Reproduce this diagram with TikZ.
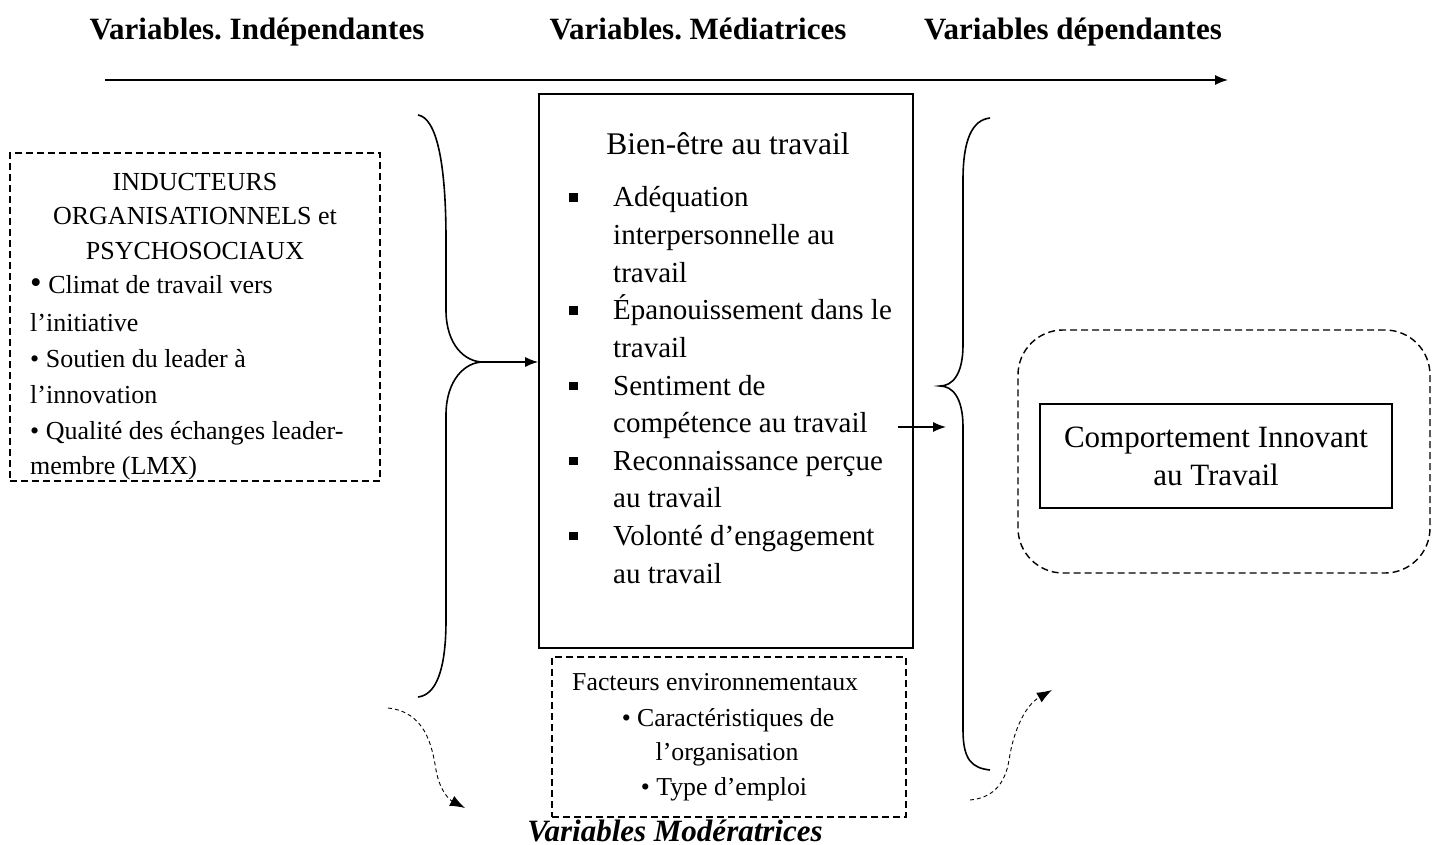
\documentclass[tikz,border=0pt]{standalone}
\usepackage{fontspec}
\setmainfont{Liberation Serif}
\usetikzlibrary{arrows.meta}
\frenchspacing
\begin{document}
\begin{tikzpicture}[x=1pt,y=-1pt,
  ttl/.style={font=\fontsize{31}{36}\selectfont\bfseries, inner sep=0pt, anchor=base},
  lt/.style={font=\fontsize{26}{30}\selectfont, inner sep=0pt},
  mt/.style={font=\fontsize{29}{36}\selectfont, inner sep=0pt},
  bt/.style={font=\fontsize{25.8}{30}\selectfont, inner sep=0pt},
  dbox/.style={draw, line width=1.4pt, dash pattern=on 7pt off 4pt},
  sbox/.style={draw, line width=1.6pt},
  arr/.style={line width=1.4pt, -{Latex[length=13pt,width=10pt]}},
  darr/.style={line width=0.9pt, dash pattern=on 4pt off 3pt, -{Latex[length=15pt,width=11pt]}},
  brace/.style={line width=1.6pt},
]
\useasboundingbox (0,0) rectangle (1438,845);

% titles
\node[ttl] (tind) at (257,40) {Variables. Indépendantes};
\node[ttl] (tmed) at (698,40) {Variables. Médiatrices};
\node[ttl] (tdep) at (1073,40) {Variables dépendantes};

% top arrow
\coordinate (a0) at (105,80);
\coordinate (a1) at (1228,80);
\draw[arr] (a0) -- (a1);

% left box
\node[dbox, minimum width=370pt, minimum height=328pt, inner sep=0pt] (ind) at (195,317) {};
\node[lt, anchor=base] (h1) at (195,191) {INDUCTEURS};
\node[lt, anchor=base] (h2) at (195,225) {ORGANISATIONNELS et};
\node[lt, anchor=base] (h3) at (195,259) {PSYCHOSOCIAUX};
\node[lt, anchor=base west] (l1) at (30,294) {{\fontsize{33}{33}\selectfont •} Climat de travail vers};
\node[lt, anchor=base west] (l2) at (30,331) {l’initiative};
\node[lt, anchor=base west] (l3) at (30,367) {• Soutien du leader à};
\node[lt, anchor=base west] (l4) at (30,403) {l’innovation};
\node[lt, anchor=base west] (l5) at (30,439) {• Qualité des échanges leader-};
\node[lt, anchor=base west] (l6) at (30,474) {membre (LMX)};

% main box
\node[sbox, minimum width=374pt, minimum height=554pt, inner sep=0pt] (med) at (726,371) {};
\node[mt, anchor=base, font=\fontsize{31.5}{36}\selectfont] (bien) at (728,155) {Bien-être au travail};
\foreach \y/\t [count=\i] in {207/{Adéquation}, 244.6/{interpersonnelle au}, 282.2/{travail},
  319.8/{Épanouissement dans le}, 357.4/{travail}, 395/{Sentiment de},
  432.6/{compétence au travail}, 470.2/{Reconnaissance perçue}, 507.8/{au travail},
  545.4/{Volonté d’engagement}, 583/{au travail}}
  \node[mt, anchor=base west] (it\i) at (613,\y) {\t};
\foreach \y [count=\i] in {207, 319.8, 395, 470.2, 545.4}
  \node[mt, anchor=base west] (sq\i) at (569,\y) {\rule[5pt]{8.5pt}{8.5pt}};

% right boxes
\node[dbox, rounded corners=45pt, minimum width=412pt, minimum height=243pt, inner sep=0pt] (dep) at (1224,451.5) {};
\node[draw, line width=1.4pt, minimum width=352pt, minimum height=104pt, inner sep=0pt,
      align=center, font=\fontsize{31}{38}\selectfont] (cit) at (1216,456) {Comportement Innovant\\au Travail};

% bottom box
\node[dbox, minimum width=354pt, minimum height=160pt, inner sep=0pt] (mod) at (729,737) {};
\node[bt, anchor=base west] (m1) at (572,690) {Facteurs environnementaux};
\node[bt, anchor=base] (m2) at (728,726) {• Caractéristiques de};
\node[bt, anchor=base] (m3) at (727,760) {l’organisation};
\node[bt, anchor=base] (m4) at (724,795) {• Type d’emploi};
\node[inner sep=0pt, anchor=base, font=\fontsize{31}{36}\selectfont\bfseries\itshape] (vmod) at (675,841) {Variables Modératrices};

% left brace
\coordinate (ltip) at (483,362);
\draw[brace] (418,115) .. controls (436,118) and (446,160) .. (446,240) -- (446,310)
  .. controls (446,345) and (465,362) .. (ltip)
  .. controls (465,362) and (446,380) .. (446,415) -- (446,620)
  .. controls (446,670) and (436,695) .. (418,697);
\draw[arr] (ltip) -- (ltip -| med.west);

% right brace
\coordinate (rtip) at (940,386);
\draw[brace] (990,118) .. controls (972,120) and (963,140) .. (963,180) -- (963,345)
  .. controls (963,375) and (952,386) .. (rtip)
  .. controls (952,386) and (963,397) .. (963,427) -- (963,730)
  .. controls (963,760) and (972,768) .. (990,770);
\coordinate (rs) at (898,427);
\coordinate (re) at (946,427);
\draw[arr] (rs) -- (re);

% dashed curved arrows
\coordinate (d1s) at (388,708);
\coordinate (d1e) at (465,808);
\draw[darr] (d1s) .. controls (425,712) and (432,745) .. (436,770) .. controls (440,792) and (450,800) .. (d1e);
\coordinate (d2s) at (970,800);
\coordinate (d2e) at (1052,690);
\draw[darr] (d2s) .. controls (992,798) and (1005,785) .. (1009,760) .. controls (1014,728) and (1026,705) .. (d2e);
\end{tikzpicture}
\end{document}
